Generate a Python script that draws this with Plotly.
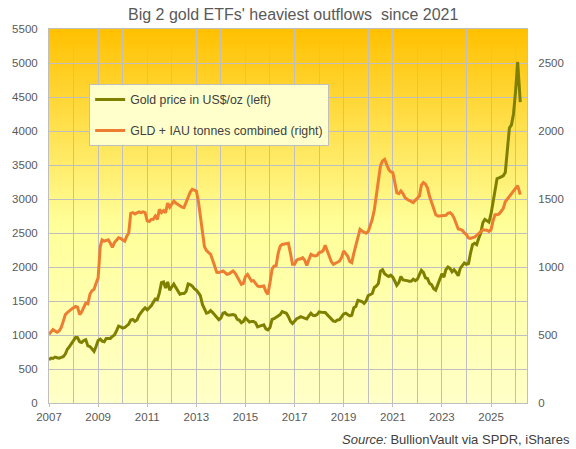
import plotly.graph_objects as go
import pandas as pd

# ---- data (monthly) ----
months = pd.date_range("2007-01-01", "2026-02-01", freq="MS").strftime("%Y-%m-%d").tolist()
last_date = "2026-03-12"
dates = months + [last_date]

gold_price = [
    # 2007
    637, 660, 655, 675, 665, 660, 670, 680, 720, 790, 830, 880,
    # 2008
    920, 965, 960, 900, 890, 920, 930, 840, 830, 790, 760, 830,
    # 2009
    920, 940, 910, 900, 950, 950, 950, 980, 1000, 1060, 1130, 1120,
    # 2010
    1100, 1110, 1130, 1160, 1220, 1230, 1200, 1220, 1290, 1340, 1370, 1400,
    # 2011
    1370, 1400, 1430, 1480, 1530, 1520, 1620, 1770, 1780, 1690, 1780, 1660,
    # 2012
    1700, 1750, 1700, 1640, 1600, 1610, 1610, 1640, 1750, 1740, 1720, 1680,
    # 2013
    1660, 1620, 1580, 1450, 1390, 1320, 1330, 1360, 1330, 1300, 1270, 1225,
    # 2014
    1250, 1320, 1330, 1300, 1290, 1300, 1300, 1290, 1230, 1220, 1180, 1200,
    # 2015
    1250, 1220, 1190, 1200, 1200, 1180, 1120, 1130, 1140, 1150, 1090, 1075,
    # 2016
    1110, 1230, 1240, 1260, 1270, 1300, 1345, 1330, 1320, 1270, 1200, 1170,
    # 2017
    1200, 1240, 1250, 1270, 1260, 1250, 1235, 1280, 1320, 1290, 1285, 1300,
    # 2018
    1340, 1335, 1335, 1330, 1300, 1270, 1230, 1205, 1200, 1220, 1225, 1260,
    # 2019
    1310, 1320, 1300, 1280, 1290, 1400, 1420, 1510, 1500, 1490, 1465, 1500,
    # 2020
    1580, 1600, 1610, 1700, 1720, 1760, 1940, 1960, 1900, 1880, 1860, 1880,
    # 2021
    1850, 1790, 1730, 1770, 1860, 1810, 1810, 1800, 1790, 1790, 1820, 1800,
    # 2022
    1820, 1900, 1950, 1920, 1840, 1830, 1760, 1740, 1680, 1660, 1740, 1810,
    # 2023
    1900, 1850, 1960, 2000, 1980, 1930, 1960, 1920, 1870, 1980, 2030, 2060,
    # 2024
    2040, 2050, 2200, 2330, 2350, 2330, 2420, 2500, 2650, 2700, 2680, 2660,
    # 2025
    2780, 2950, 3150, 3300, 3310, 3330, 3340, 3390, 3700, 4044, 4090, 4250,
    # 2026
    4582, 5015, 4426,
]

etf_tonnes = [
    # 2007
    505, 525, 540, 530, 520, 530, 555, 600, 650, 665, 680, 690,
    # 2008
    700, 710, 705, 650, 670, 700, 735, 730, 800, 825, 836, 880,
    # 2009
    920, 1150, 1200, 1190, 1195, 1200, 1175, 1145, 1180, 1200, 1215, 1210,
    # 2010
    1200, 1190, 1225, 1250, 1395, 1400, 1390, 1395, 1405, 1400, 1405, 1400,
    # 2011
    1340, 1335, 1350, 1351, 1375, 1350, 1424, 1400, 1415, 1400, 1470, 1440,
    # 2012
    1460, 1485, 1470, 1460, 1450, 1440, 1437, 1475, 1522, 1550, 1571, 1565,
    # 2013
    1559, 1480, 1380, 1240, 1150, 1120, 1105, 1093, 1050, 1000, 960, 959,
    # 2014
    965, 971, 960, 946, 950, 960, 971, 955, 925, 900, 873, 880,
    # 2015
    930, 946, 920, 897, 900, 880, 860, 855, 860, 860, 820, 799,
    # 2016
    885, 983, 1007, 1010, 1100, 1154, 1166, 1170, 1174, 1175, 1100, 1020,
    # 2017
    1020, 1050, 1057, 1060, 1069, 1050, 1012, 1060, 1093, 1085, 1081, 1085,
    # 2018
    1106, 1110, 1120, 1160, 1120, 1081, 1040, 1020, 1025, 1035, 1044, 1070,
    # 2019
    1118, 1100, 1081, 1040, 1032, 1100, 1154, 1230, 1277, 1265, 1255, 1248,
    # 2020
    1260, 1300, 1351, 1420, 1522, 1620, 1743, 1780, 1792, 1755, 1718, 1700,
    # 2021
    1694, 1620, 1547, 1540, 1559, 1540, 1510, 1498, 1490, 1480, 1473, 1490,
    # 2022
    1510, 1522, 1600, 1621, 1611, 1580, 1520, 1480, 1430, 1385, 1375, 1375,
    # 2023
    1375, 1375, 1380, 1395, 1400, 1387, 1360, 1320, 1280, 1277, 1270, 1250,
    # 2024
    1238, 1213, 1210, 1216, 1220, 1232, 1245, 1265, 1274, 1272, 1270, 1262,
    # 2025
    1275, 1340, 1385, 1385, 1390, 1410, 1430, 1480, 1500, 1519, 1540, 1556,
    # 2026
    1580, 1598, 1532,
]

left_ticks = list(range(0, 5501, 500))
right_ticks = list(range(0, 2751, 500))

title_text = "Big 2 gold ETFs' heaviest outflows  since 2021"
gold_name = "Gold price in US$/oz (left)"
etf_name = "GLD + IAU tonnes combined (right)"
source_text = "<i>Source:</i> BullionVault via SPDR, iShares"

FONT = "Liberation Sans, Arial, sans-serif"
GRID = "#BFBFBF"
TXT = "#595959"

fig = go.Figure()
fig.add_trace(go.Scatter(x=dates, y=gold_price, name=gold_name, mode="lines",
                         line=dict(color="#808000", width=3), yaxis="y",
                         legendgroup="g1"))
fig.add_trace(go.Scatter(x=dates, y=etf_tonnes, name=etf_name, mode="lines",
                         line=dict(color="#ED7D31", width=3), yaxis="y2",
                         legendgroup="g2"))

# gradient background bands (paper coords of plot area)
def mix(c1, c2, t):
    return tuple(round(a + (b - a) * t) for a, b in zip(c1, c2))

top_c = (255, 192, 0)
mid_c = (255, 255, 153)
bot_c = (255, 255, 200)
N = 120
shapes = []
for i in range(N):
    f0 = i / N
    f1 = (i + 1) / N
    fc = 1 - (f0 + f1) / 2  # fraction from top
    if fc < 0.52:
        c = mix(top_c, mid_c, fc / 0.52)
    else:
        c = mix(mid_c, bot_c, (fc - 0.52) / 0.48)
    shapes.append(dict(type="rect", xref="paper", yref="paper", x0=0, x1=1,
                       y0=f0, y1=f1 + 0.002, line=dict(width=0),
                       fillcolor="rgb(%d,%d,%d)" % c, layer="below"))

fig.update_layout(
    width=576, height=449,
    margin=dict(l=48, r=44, t=29, b=46),
    paper_bgcolor="white",
    plot_bgcolor="rgba(0,0,0,0)",
    shapes=shapes,
    font=dict(family=FONT, color=TXT, size=12),
    title=dict(text=title_text, x=0.509, xref="container", xanchor="center",
               y=0.969, yref="container", yanchor="middle",
               font=dict(family=FONT, size=16, color=TXT)),
    showlegend=True,
    legend=dict(x=0.084, y=0.853, xanchor="left", yanchor="top",
                bgcolor="#FFFFCC", bordercolor=GRID, borderwidth=1,
                font=dict(family=FONT, size=12.3, color="#404040"),
                tracegroupgap=12, traceorder="grouped", itemwidth=30),
    xaxis=dict(type="date", range=["2007-01-01", "2026-06-20"],
               tick0="2007-01-01", dtick="M24", tickformat="%Y",
               showgrid=True, gridcolor=GRID, gridwidth=1,
               minor=dict(dtick="M12", tick0="2007-01-01", showgrid=True,
                          gridcolor=GRID, gridwidth=1),
               ticks="outside", ticklen=3, tickcolor=GRID,
               showline=True, linecolor=GRID, linewidth=1, mirror=True,
               tickfont=dict(size=11.5, color=TXT), zeroline=False),
    yaxis=dict(range=[0, 5500], tickvals=left_ticks, showgrid=True,
               gridcolor=GRID, gridwidth=1, showline=True, linecolor=GRID,
               zeroline=False, ticks="", ticklabelstandoff=8,
               tickfont=dict(size=11.5, color=TXT)),
    yaxis2=dict(range=[0, 2750], tickvals=right_ticks, overlaying="y",
                side="right", showgrid=False, showline=True, linecolor=GRID,
                zeroline=False, ticks="", ticklabelstandoff=8,
                tickfont=dict(size=11.5, color=TXT)),
    annotations=[dict(text=source_text, xref="paper", yref="paper",
                      x=1.094, y=-0.098, xanchor="right", yanchor="middle",
                      showarrow=False, font=dict(family=FONT, size=13,
                                                 color="#404040"))],
)

fig.write_html("out.html",
               config={"displayModeBar": False},
               post_script="document.body.style.margin='0';"
                           "document.body.style.overflow='hidden';")
